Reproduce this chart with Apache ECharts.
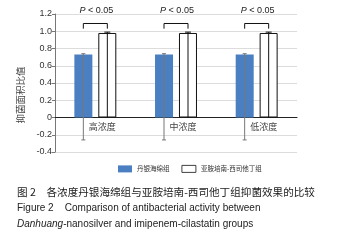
<!DOCTYPE html>
<html>
<head>
<meta charset="utf-8">
<script src="https://cdn.jsdelivr.net/npm/echarts@6/dist/echarts.min.js"></script>
<style>
  html, body { margin: 0; padding: 0; background: #fff; }
  #chart { width: 338px; height: 243px; }
</style>
</head>
<body>
<div id="chart"></div>
<script>
// data
var categories = ['高浓度', '中浓度', '低浓度'];
var silverValues = [0.73, 0.73, 0.73];
var imipenemValues = [0.98, 0.98, 0.98];
var silverErrLow = [-0.26, -0.26, -0.26];
var silverErrHigh = [0.74, 0.74, 0.74];
var imipenemErrLow = [0, 0, 0];
var imipenemErrHigh = [0.99, 0.99, 0.99];
var bracketTop = [1.09, 1.09, 1.09];
var bracketLeg = [1.03, 1.03, 1.03];
var pTextLevel = [1.24, 1.24, 1.24];

var barW = 18;
var half = 12; // half distance between the two bar centres

function errData(low, high) {
    return categories.map(function (c, i) { return [i, low[i], high[i]]; });
}

function errorRender(offset, color, capLow, capHigh) {
    return function (params, api) {
        var lo = api.coord([api.value(0), api.value(1)]);
        var hi = api.coord([api.value(0), api.value(2)]);
        var x = lo[0] + offset;
        var st = { stroke: color, lineWidth: 1 };
        return {
            type: 'group',
            children: [
                { type: 'line', shape: { x1: x, y1: lo[1], x2: x, y2: hi[1] }, style: st },
                { type: 'line', shape: { x1: x - capLow, y1: lo[1], x2: x + capLow, y2: lo[1] }, style: st },
                { type: 'line', shape: { x1: x - capHigh, y1: hi[1], x2: x + capHigh, y2: hi[1] }, style: st }
            ]
        };
    };
}

var option = {
    animation: false,
    grid: { left: 55, right: 41, top: 14, bottom: 91, containLabel: false },
    legend: {
        left: 113,
        top: 160,
        itemWidth: 14,
        itemHeight: 7,
        itemGap: 12,
        textStyle: { fontSize: 6.5, color: '#333', fontFamily: 'Noto Sans CJK SC' },
        data: [
            { name: '丹银海绵组', icon: 'rect' },
            { name: '亚胺培南-西司他丁组', icon: 'rect', itemStyle: { borderWidth: 0.8 } }
        ]
    },
    xAxis: {
        type: 'category',
        data: categories,
        axisLine: { onZero: true, lineStyle: { color: '#222', width: 1 } },
        axisTick: { show: false },
        axisLabel: { show: false }
    },
    yAxis: {
        type: 'value',
        min: -0.4,
        max: 1.2,
        interval: 0.2,
        name: '抑菌面积比值',
        nameLocation: 'middle',
        nameRotate: 90,
        nameGap: 30,
        nameTextStyle: { fontSize: 9.5, color: '#444', fontFamily: 'Noto Sans CJK SC', padding: [0, 24, 0, 0] },
        axisLine: { show: true, lineStyle: { color: '#777' } },
        axisTick: { show: true, length: 3, lineStyle: { color: '#777' } },
        splitLine: { lineStyle: { color: '#dcdcdc' } },
        axisLabel: {
            margin: 3,
            fontSize: 9,
            color: '#333',
            fontFamily: 'Liberation Sans',
            formatter: function (v) {
                var r = Math.round(v * 10) / 10;
                if (r === 0) return '0';
                return (r < 0 ? '-' : '') + Math.abs(r).toFixed(1);
            }
        }
    },
    series: [
        {
            name: '丹银海绵组',
            type: 'bar',
            data: silverValues,
            barWidth: barW,
            barGap: '33%',
            itemStyle: { color: '#4a7fc1' }
        },
        {
            name: '亚胺培南-西司他丁组',
            type: 'bar',
            data: imipenemValues,
            barWidth: barW,
            itemStyle: { color: '#fff', borderColor: '#111', borderWidth: 1 }
        },
        {
            type: 'custom',
            silent: true,
            z: 5,
            data: errData(silverErrLow, silverErrHigh),
            renderItem: errorRender(-half, '#777', 2, 2)
        },
        {
            type: 'custom',
            silent: true,
            z: 5,
            data: errData(imipenemErrLow, imipenemErrHigh),
            renderItem: errorRender(half, '#111', 0, 3)
        },
        {
            // category labels sitting just under the zero line
            type: 'custom',
            silent: true,
            clip: false,
            z: 6,
            data: categories.map(function (c, i) { return [i, 0]; }),
            renderItem: function (params, api) {
                var p = api.coord([api.value(0), api.value(1)]);
                return {
                    type: 'text',
                    x: p[0] + 7,
                    y: p[1] + 9,
                    style: {
                        text: categories[params.dataIndex],
                        align: 'center',
                        verticalAlign: 'middle',
                        fontSize: 9,
                        fontFamily: 'Noto Sans CJK SC',
                        fill: '#444'
                    }
                };
            }
        },
        {
            type: 'custom',
            silent: true,
            clip: false,
            z: 6,
            data: categories.map(function (c, i) { return [i, bracketTop[i], bracketLeg[i], pTextLevel[i]]; }),
            renderItem: function (params, api) {
                var top = api.coord([api.value(0), api.value(1)]);
                var leg = api.coord([api.value(0), api.value(2)]);
                var txt = api.coord([api.value(0), api.value(3)]);
                var xl = top[0] - half, xr = top[0] + half;
                var st = { stroke: '#111', lineWidth: 1, fill: null };
                return {
                    type: 'group',
                    children: [
                        { type: 'polyline', shape: { points: [[xl, leg[1]], [xl, top[1]], [xr, top[1]], [xr, leg[1]]] }, style: st },
                        {
                            type: 'text',
                            x: top[0] + 1,
                            y: txt[1],
                            style: {
                                text: '{i|P} < 0.05',
                                align: 'center',
                                verticalAlign: 'middle',
                                fontSize: 9,
                                fontFamily: 'Liberation Sans',
                                fill: '#222',
                                rich: { i: { fontStyle: 'italic', fontSize: 9, fontFamily: 'Liberation Sans' } }
                            }
                        }
                    ]
                };
            }
        }
    ],
    graphic: [
        {
            type: 'text', left: 17, top: 187,
            style: { text: '图 2　各浓度丹银海绵组与亚胺培南-西司他丁组抑菌效果的比较', fontSize: 10.6, fontFamily: 'Noto Sans CJK SC', fill: '#222' }
        },
        {
            type: 'text', left: 17, top: 203,
            style: { text: 'Figure 2    Comparison of antibacterial activity between', fontSize: 10, fontFamily: 'Liberation Sans', fill: '#222' }
        },
        {
            type: 'text', left: 17, top: 219,
            style: {
                text: '{i|Danhuang}-nanosilver and imipenem-cilastatin groups',
                fontSize: 10, fontFamily: 'Liberation Sans', fill: '#222',
                rich: { i: { fontStyle: 'italic', fontSize: 10, fontFamily: 'Liberation Sans' } }
            }
        }
    ]
};

echarts.init(document.getElementById('chart')).setOption(option);
</script>
</body>
</html>
